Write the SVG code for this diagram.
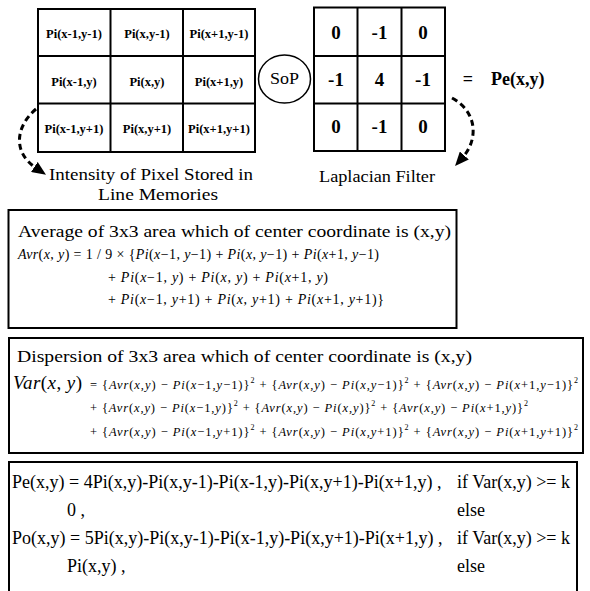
<svg xmlns="http://www.w3.org/2000/svg" width="590" height="591" viewBox="0 0 590 591" font-family="'Liberation Serif', 'DejaVu Serif', serif">
<style>
text{font-family:'Liberation Serif','DejaVu Serif',serif;fill:#000}
.frame{fill:#fff;stroke:#000;stroke-width:2}
.ln{stroke:#000;stroke-width:2}
.g{font-weight:bold;font-size:12.5px;text-anchor:middle}
.f{font-weight:bold;font-size:19px;text-anchor:middle}
.lbl{font-size:16px}
.box{fill:#fff;stroke:#000;stroke-width:2}
.m{font-size:14px}
.v{font-size:12.5px}
.i{font-style:italic}
.s{font-size:8px}
.p{font-size:18px}
.dash{fill:none;stroke:#000;stroke-width:3;stroke-dasharray:6 4}
</style>
<defs>
<marker id="ah" viewBox="0 0 14 12" refX="2" refY="6" markerWidth="14" markerHeight="12" orient="auto" markerUnits="userSpaceOnUse"><path d="M0,0 L14,6 L0,12 z" fill="#000"/></marker>
</defs>
<rect width="590" height="591" fill="#fff"/>

<g id="pixel-grid">
<rect class="frame" x="38" y="9" width="217" height="143"/>
<line class="ln" x1="110.5" y1="9" x2="110.5" y2="152"/>
<line class="ln" x1="183" y1="9" x2="183" y2="152"/>
<line class="ln" x1="38" y1="56" x2="255" y2="56"/>
<line class="ln" x1="38" y1="103.5" x2="255" y2="103.5"/>
<text class="g" x="74" y="38">Pi(x-1,y-1)</text>
<text class="g" x="147" y="38">Pi(x,y-1)</text>
<text class="g" x="219" y="38">Pi(x+1,y-1)</text>
<text class="g" x="74" y="86">Pi(x-1,y)</text>
<text class="g" x="147" y="86">Pi(x,y)</text>
<text class="g" x="219" y="86">Pi(x+1,y)</text>
<text class="g" x="74" y="133">Pi(x-1,y+1)</text>
<text class="g" x="147" y="133">Pi(x,y+1)</text>
<text class="g" x="219" y="133">Pi(x+1,y+1)</text>
</g>

<g id="pixel-label">
<text class="lbl" x="49" y="180" textLength="204" lengthAdjust="spacingAndGlyphs">Intensity of Pixel Stored in</text>
<text class="lbl" x="98" y="200" textLength="120" lengthAdjust="spacingAndGlyphs">Line Memories</text>
</g>

<g id="sop">
<ellipse cx="284.5" cy="79" rx="26" ry="24" fill="#fff" stroke="#000" stroke-width="1.5"/>
<text x="270" y="84" font-size="17" textLength="29" lengthAdjust="spacingAndGlyphs">SoP</text>
</g>

<g id="laplacian-filter">
<rect class="frame" x="314" y="7.5" width="131" height="143.5"/>
<line class="ln" x1="357.5" y1="7.5" x2="357.5" y2="151"/>
<line class="ln" x1="401.5" y1="7.5" x2="401.5" y2="151"/>
<line class="ln" x1="314" y1="56" x2="445" y2="56"/>
<line class="ln" x1="314" y1="103.5" x2="445" y2="103.5"/>
<text class="f" x="336" y="38.5">0</text>
<text class="f" x="379.5" y="38.5">-1</text>
<text class="f" x="423" y="38.5">0</text>
<text class="f" x="336" y="86">-1</text>
<text class="f" x="379.5" y="86">4</text>
<text class="f" x="423" y="86">-1</text>
<text class="f" x="336" y="133">0</text>
<text class="f" x="379.5" y="133">-1</text>
<text class="f" x="423" y="133">0</text>
</g>

<g id="filter-label">
<text class="lbl" x="319" y="182" textLength="116" lengthAdjust="spacingAndGlyphs">Laplacian Filter</text>
</g>

<g id="result">
<text x="468" y="85" font-size="18" font-weight="bold" text-anchor="middle">=</text>
<text x="491" y="85" font-size="18" font-weight="bold">Pe(x,y)</text>
</g>

<g id="connectors">
<path class="dash" d="M36,109 C16,126 12,152 36,168" marker-end="url(#ah)"/>
<path class="dash" d="M452,98 C478,112 478,140 463,157" marker-end="url(#ah)"/>
</g>

<g id="average-box">
<rect class="box" x="8.5" y="210" width="448" height="118"/>
<text class="lbl" x="18" y="237" textLength="433" lengthAdjust="spacingAndGlyphs">Average of 3x3 area which of center coordinate is (x,y)</text>
<text class="m" x="18" y="259" textLength="361"><tspan class="i">Avr</tspan>(<tspan class="i">x</tspan>, <tspan class="i">y</tspan>) = 1 / 9 × {<tspan class="i">Pi</tspan>(<tspan class="i">x</tspan>−1, <tspan class="i">y</tspan>−1) + <tspan class="i">Pi</tspan>(<tspan class="i">x</tspan>, <tspan class="i">y</tspan>−1) + <tspan class="i">Pi</tspan>(<tspan class="i">x</tspan>+1, <tspan class="i">y</tspan>−1)</text>
<text class="m" x="108" y="282" textLength="220">+ <tspan class="i">Pi</tspan>(<tspan class="i">x</tspan>−1, <tspan class="i">y</tspan>) + <tspan class="i">Pi</tspan>(<tspan class="i">x</tspan>, <tspan class="i">y</tspan>) + <tspan class="i">Pi</tspan>(<tspan class="i">x</tspan>+1, <tspan class="i">y</tspan>)</text>
<text class="m" x="108" y="304" textLength="276">+ <tspan class="i">Pi</tspan>(<tspan class="i">x</tspan>−1, <tspan class="i">y</tspan>+1) + <tspan class="i">Pi</tspan>(<tspan class="i">x</tspan>, <tspan class="i">y</tspan>+1) + <tspan class="i">Pi</tspan>(<tspan class="i">x</tspan>+1, <tspan class="i">y</tspan>+1)}</text>
</g>

<g id="dispersion-box">
<rect class="box" x="9" y="338" width="574" height="115"/>
<text class="lbl" x="17" y="362" textLength="455" lengthAdjust="spacingAndGlyphs">Dispersion of 3x3 area which of center coordinate is (x,y)</text>
<text x="13" y="389" font-size="19" textLength="69"><tspan class="i">Var</tspan>(<tspan class="i">x</tspan>, <tspan class="i">y</tspan>)</text>
<text class="v" x="90" y="389" textLength="488">= {<tspan class="i">Avr</tspan>(<tspan class="i">x</tspan>,<tspan class="i">y</tspan>) − <tspan class="i">Pi</tspan>(<tspan class="i">x</tspan>−1,<tspan class="i">y</tspan>−1)}<tspan class="s" dy="-6">2</tspan><tspan dy="6"> </tspan>+ {<tspan class="i">Avr</tspan>(<tspan class="i">x</tspan>,<tspan class="i">y</tspan>) − <tspan class="i">Pi</tspan>(<tspan class="i">x</tspan>,<tspan class="i">y</tspan>−1)}<tspan class="s" dy="-6">2</tspan><tspan dy="6"> </tspan>+ {<tspan class="i">Avr</tspan>(<tspan class="i">x</tspan>,<tspan class="i">y</tspan>) − <tspan class="i">Pi</tspan>(<tspan class="i">x</tspan>+1,<tspan class="i">y</tspan>−1)}<tspan class="s" dy="-6">2</tspan></text>
<text class="v" x="90" y="412" textLength="438">+ {<tspan class="i">Avr</tspan>(<tspan class="i">x</tspan>,<tspan class="i">y</tspan>) − <tspan class="i">Pi</tspan>(<tspan class="i">x</tspan>−1,<tspan class="i">y</tspan>)}<tspan class="s" dy="-6">2</tspan><tspan dy="6"> </tspan>+ {<tspan class="i">Avr</tspan>(<tspan class="i">x</tspan>,<tspan class="i">y</tspan>) − <tspan class="i">Pi</tspan>(<tspan class="i">x</tspan>,<tspan class="i">y</tspan>)}<tspan class="s" dy="-6">2</tspan><tspan dy="6"> </tspan>+ {<tspan class="i">Avr</tspan>(<tspan class="i">x</tspan>,<tspan class="i">y</tspan>) − <tspan class="i">Pi</tspan>(<tspan class="i">x</tspan>+1,<tspan class="i">y</tspan>)}<tspan class="s" dy="-6">2</tspan></text>
<text class="v" x="90" y="436" textLength="488">+ {<tspan class="i">Avr</tspan>(<tspan class="i">x</tspan>,<tspan class="i">y</tspan>) − <tspan class="i">Pi</tspan>(<tspan class="i">x</tspan>−1,<tspan class="i">y</tspan>+1)}<tspan class="s" dy="-6">2</tspan><tspan dy="6"> </tspan>+ {<tspan class="i">Avr</tspan>(<tspan class="i">x</tspan>,<tspan class="i">y</tspan>) − <tspan class="i">Pi</tspan>(<tspan class="i">x</tspan>,<tspan class="i">y</tspan>+1)}<tspan class="s" dy="-6">2</tspan><tspan dy="6"> </tspan>+ {<tspan class="i">Avr</tspan>(<tspan class="i">x</tspan>,<tspan class="i">y</tspan>) − <tspan class="i">Pi</tspan>(<tspan class="i">x</tspan>+1,<tspan class="i">y</tspan>+1)}<tspan class="s" dy="-6">2</tspan></text>
</g>

<g id="output-box">
<rect class="box" x="9" y="462" width="568" height="140"/>
<text class="p" x="12" y="488">Pe(x,y) = 4Pi(x,y)-Pi(x,y-1)-Pi(x-1,y)-Pi(x,y+1)-Pi(x+1,y) ,</text>
<text class="p" x="457" y="488">if Var(x,y) &gt;= k</text>
<text class="p" x="67" y="516">0 ,</text>
<text class="p" x="457" y="516">else</text>
<text class="p" x="12" y="544">Po(x,y) = 5Pi(x,y)-Pi(x,y-1)-Pi(x-1,y)-Pi(x,y+1)-Pi(x+1,y) ,</text>
<text class="p" x="457" y="544">if Var(x,y) &gt;= k</text>
<text class="p" x="67" y="572">Pi(x,y) ,</text>
<text class="p" x="457" y="572">else</text>
</g>
</svg>
